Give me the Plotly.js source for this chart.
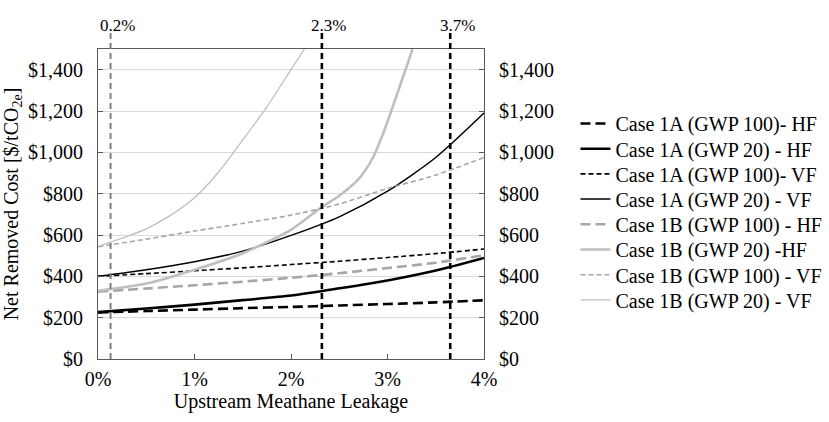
<!DOCTYPE html>
<html>
<head>
<meta charset="utf-8">
<script src="https://cdn.plot.ly/plotly-3.0.1.min.js"></script>
<style>
html,body{margin:0;padding:0;background:#fff;}
#chart{width:829px;height:422px;}
</style>
</head>
<body>
<div id="chart"></div>
<script>
// Upstream methane leakage (%) sample points
const leakageX = [0, 0.5, 1, 1.5, 2, 2.5, 3, 3.5, 4];
const case1A_GWP100_HF = [225, 232, 239, 246, 252, 259, 266, 274, 284];
const case1A_GWP20_HF  = [227, 244, 263, 285, 307, 342, 380, 428, 489];
const case1A_GWP100_VF = [400, 413, 427, 441, 457, 473, 491, 510, 532];
const case1A_GWP20_VF  = [400, 432, 471, 522, 598, 688, 812, 975, 1190];
const case1B_GWP100_HF = [326, 341, 357, 374, 393, 415, 440, 466, 502];
const case1B_GWP20_HF_x = [0, 0.5, 1, 1.5, 2, 2.3, 2.5, 2.7, 2.85, 2.95, 3.05, 3.15, 3.26];
const case1B_GWP20_HF   = [330, 365, 432, 512, 625, 729, 790, 870, 975, 1085, 1215, 1350, 1500];
const case1B_GWP100_VF = [543, 580, 619, 656, 696, 750, 825, 890, 975];
const case1B_GWP20_VF_x = [0, 0.25, 0.5, 0.75, 1, 1.25, 1.5, 1.75, 2, 2.14];
const case1B_GWP20_VF   = [545, 585, 630, 695, 780, 905, 1060, 1220, 1400, 1500];

const seriesNames = [
  'Case 1A (GWP 100)- HF',
  'Case 1A (GWP 20) - HF',
  'Case 1A (GWP 100)- VF',
  'Case 1A (GWP 20) - VF',
  'Case 1B (GWP 100) - HF',
  'Case 1B (GWP 20) -HF',
  'Case 1B (GWP 100) - VF',
  'Case 1B (GWP 20) - VF'
];

const markerX = [0.13, 2.32, 3.65];
const markerLabels = ['0.2%', '2.3%', '3.7%'];

const yTickVals = [0, 200, 400, 600, 800, 1000, 1200, 1400];
const yTickText = ['$0', '$200', '$400', '$600', '$800', '$1,000', '$1,200', '$1,400'];
const xTickVals = [0, 1, 2, 3, 4];
const xTickText = ['0%', '1%', '2%', '3%', '4%'];

const BLACK = '#000000';
const GRAY_D = '#a6a6a6';
const GRAY_S = '#bfbfbf';
const FONT = 'Liberation Serif';
const serif = t => '<span style="font-family:Liberation Serif">' + t + '</span>';

const styles = [
  {color: BLACK, width: 2.6, dash: '10px,5px'},
  {color: BLACK, width: 2.6, dash: 'solid'},
  {color: BLACK, width: 1.6, dash: '5px,3px'},
  {color: BLACK, width: 1.5, dash: 'solid'},
  {color: GRAY_D, width: 2.6, dash: '10px,5px'},
  {color: GRAY_S, width: 2.6, dash: 'solid'},
  {color: GRAY_D, width: 1.6, dash: '5px,3px'},
  {color: GRAY_S, width: 1.3, dash: 'solid'}
];

const xs = [leakageX, leakageX, leakageX, leakageX, leakageX, case1B_GWP20_HF_x, leakageX, case1B_GWP20_VF_x];
const ys = [case1A_GWP100_HF, case1A_GWP20_HF, case1A_GWP100_VF, case1A_GWP20_VF,
            case1B_GWP100_HF, case1B_GWP20_HF, case1B_GWP100_VF, case1B_GWP20_VF];

const legendKey = i => (i === 0 ? 'legend' : 'legend' + (i + 1));

const traces = seriesNames.map((n, i) => ({
  x: xs[i], y: ys[i], name: serif(n), type: 'scatter', mode: 'lines', legend: legendKey(i),
  line: {color: styles[i].color, width: styles[i].width, dash: styles[i].dash, shape: 'spline', smoothing: 0.7},
  hoverinfo: 'skip'
}));
// invisible trace to carry the right-hand axis
traces.push({x: [0, 4], y: [0, 1500], yaxis: 'y2', mode: 'lines', line: {width: 0}, showlegend: false, hoverinfo: 'skip'});

const shapes = markerX.map((mx, i) => ({
  type: 'line', xref: 'x', yref: 'paper', x0: mx, x1: mx, y0: 0, y1: 1.052,
  line: {color: i === 0 ? '#7f7f7f' : BLACK, width: i === 0 ? 2 : 2.6, dash: '6px,4px'}
}));
const annotations = markerX.map((mx, i) => ({
  x: mx, xref: 'x', y: 1.075, yref: 'paper', text: serif(markerLabels[i]), showarrow: false,
  xshift: 7, yanchor: 'middle', font: {family: FONT, size: 17, color: BLACK}
}));

const axisCommon = {
  range: [0, 1500], tickmode: 'array', tickvals: yTickVals, ticktext: yTickText.map(serif),
  ticks: 'inside', ticklen: 5, tickcolor: '#595959', ticklabelstandoff: 10,
  showline: true, linecolor: '#595959', linewidth: 1.2,
  tickfont: {family: FONT, size: 20, color: BLACK}, zeroline: false, fixedrange: true
};

const PLOT_TOP = 49, PLOT_H = 310;
const layout = {
  width: 829, height: 422,
  margin: {l: 98, r: 345, t: PLOT_TOP, b: 422 - PLOT_TOP - PLOT_H, autoexpand: false},
  paper_bgcolor: '#ffffff', plot_bgcolor: '#ffffff',
  font: {family: FONT, color: BLACK, size: 16},
  showlegend: true,
  xaxis: {
    range: [0, 4], tickmode: 'array', tickvals: xTickVals, ticktext: xTickText.map(serif),
    ticks: 'inside', ticklen: 5, tickcolor: '#595959', ticklabelstandoff: 2,
    showline: true, linecolor: '#595959', linewidth: 1.2, mirror: true, showgrid: false, zeroline: false,
    tickfont: {family: FONT, size: 20, color: BLACK},
    title: {text: 'Upstream Meathane Leakage', font: {family: FONT, size: 20, color: BLACK}, standoff: 4},
    fixedrange: true
  },
  yaxis: Object.assign({}, axisCommon, {
    showgrid: true, gridcolor: '#d9d9d9', gridwidth: 1,
    title: {text: 'Net Removed Cost [$/tCO<sub>2e</sub>]', font: {family: FONT, size: 20, color: BLACK}, standoff: 4}
  }),
  yaxis2: Object.assign({}, axisCommon, {overlaying: 'y', side: 'right', showgrid: false}),
  shapes: shapes,
  annotations: annotations
};
// one legend box per series, stacked at the reference spacing
seriesNames.forEach((n, i) => {
  const yc = 123.5 + i * 25.2;
  layout[legendKey(i)] = {
    x: 1.237, xanchor: 'left', y: (PLOT_TOP + PLOT_H - yc) / PLOT_H, yanchor: 'middle',
    font: {family: FONT, size: 20, color: BLACK}, bgcolor: 'rgba(0,0,0,0)', itemwidth: 30
  };
});

Plotly.newPlot('chart', traces, layout, {displayModeBar: false});
</script>
</body>
</html>
